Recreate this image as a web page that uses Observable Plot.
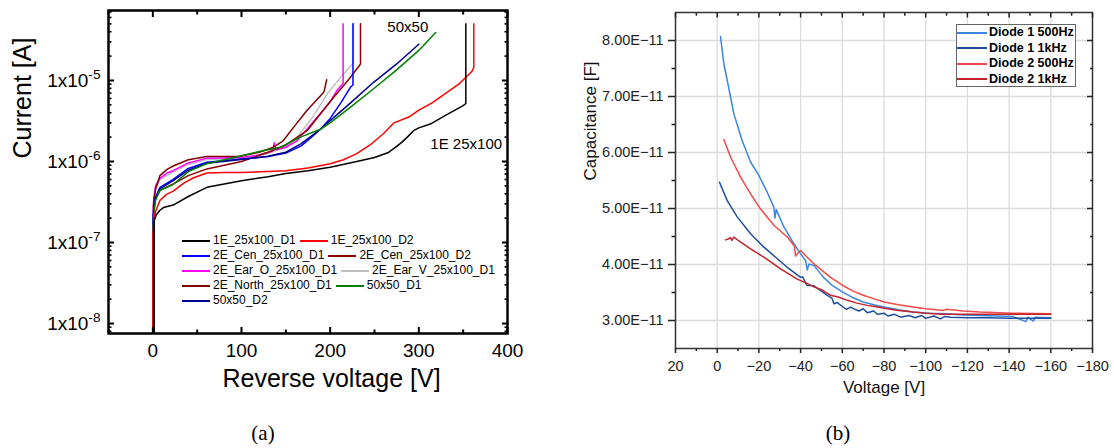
<!DOCTYPE html>
<html><head><meta charset="utf-8">
<script src="https://cdn.jsdelivr.net/npm/d3@7"></script>
<script src="https://cdn.jsdelivr.net/npm/@observablehq/plot@0.6"></script>
<style>
body{margin:0;background:#fff;}
#wrap{position:relative;width:1114px;height:448px;overflow:hidden;background:#fff;font-family:"Liberation Sans",Arial,sans-serif;}
.panel{position:absolute;top:0;}
.cap{position:absolute;font-family:"Liberation Serif","Times New Roman",serif;font-size:21px;transform:translate(-50%,-50%);white-space:nowrap;}
#legA{position:absolute;left:182px;top:233px;font-size:12px;color:#000;}
#legA .row{height:15px;line-height:15px;white-space:nowrap;display:flex;align-items:center;}
#legA .sw{display:inline-block;width:28px;height:0;border-top:2px solid;margin-right:3px;}
#legA .tx{margin-right:4px;}
#legB{position:absolute;left:956px;top:24px;width:120px;height:63px;border:1px solid #666;background:#fff;font-weight:bold;font-size:12.5px;box-sizing:border-box;padding-top:0px;}
#legB .row{height:15.5px;line-height:15.5px;white-space:nowrap;display:flex;align-items:center;}
#legB .sw{display:inline-block;width:30px;height:0;border-top:2px solid;margin-right:2px;}
</style></head>
<body><div id="wrap"></div>
<script>
// ---------------- Panel (a): I-V curves ----------------
const namesA = ["1E_25x100_D1","1E_25x100_D2","2E_Cen_25x100_D1","2E_Cen_25x100_D2","2E_Ear_O_25x100_D1","2E_Ear_V_25x100_D1","2E_North_25x100_D1","50x50_D1","50x50_D2"];
const colorsA = ["#000000","#ff0000","#0000ff","#8b0000","#ff00ff","#c0c0c0","#800000","#008000","#000090"];

const v_1E_D1 = [1.5,1.5,2.5,4,8,12,23,40,61,100,130,150,175,200,230,250,265,272,280,287,294,300,313,330,350,353,353];
const i_1E_D1 = [1e-9,1.85e-7,2.0e-7,2.2e-7,2.5e-7,2.7e-7,2.9e-7,3.7e-7,4.8e-7,5.8e-7,6.5e-7,7.1e-7,7.7e-7,8.5e-7,1.0e-6,1.12e-6,1.28e-6,1.45e-6,1.7e-6,2.0e-6,2.4e-6,2.6e-6,2.9e-6,3.7e-6,4.9e-6,5.2e-6,5e-5];

const v_1E_D2 = [0.2,0.2,1,3,8,15,23,35,46,61,80,100,130,150,175,200,215,230,245,260,272,290,300,315,325,345,360,362,362];
const i_1E_D2 = [1e-9,1.2e-7,1.7e-7,2.4e-7,3.3e-7,3.9e-7,4.3e-7,5.4e-7,6.3e-7,7.2e-7,7.3e-7,7.3e-7,7.5e-7,7.7e-7,8.3e-7,9.4e-7,1.05e-6,1.25e-6,1.6e-6,2.2e-6,3.0e-6,3.6e-6,4.3e-6,5.3e-6,6.3e-6,9e-6,1.3e-5,1.45e-5,5e-5];

const v_Cen_D1 = [0.5,0.5,1,3,8,23,40,61,100,130,150,167,178,189,200,212,223,225.7,225.7];
const i_Cen_D1 = [1e-9,2e-7,2.6e-7,3.6e-7,4.8e-7,6e-7,8.2e-7,9.8e-7,1.07e-6,1.15e-6,1.27e-6,1.55e-6,1.95e-6,2.5e-6,3.4e-6,5.3e-6,8.3e-6,8.8e-6,5e-5];

const v_Cen_D2 = [0.8,0.8,1,3,8,23,40,61,100,130,150,174,190,204,220,233,234.2,234.2];
const i_Cen_D2 = [1e-9,2e-7,2.4e-7,3.5e-7,4.4e-7,5.3e-7,6.7e-7,8.1e-7,1.0e-6,1.3e-6,1.6e-6,2.4e-6,4.0e-6,6.2e-6,1.0e-5,1.53e-5,1.6e-5,5e-5];

const v_EarO = [0.5,0.5,1,3,8,16,23,40,61,100,120,135,137,139,150,162.7,175,189,200,207.5,213.5,214.6,214.6];
const i_EarO = [1e-9,2.6e-7,3.4e-7,5e-7,6.2e-7,7.2e-7,7.7e-7,9.6e-7,1.1e-6,1.12e-6,1.2e-6,1.35e-6,1.7e-6,1.4e-6,1.5e-6,1.8e-6,2.6e-6,3.9e-6,5.5e-6,7.5e-6,8.9e-6,9.2e-6,5e-5];

const v_EarV = [0.3,0.3,1,3,8,23,40,61,100,130,150,162.7,180,197,212,225,226.4,226.4];
const i_EarV = [1e-9,2.3e-7,3.1e-7,4.6e-7,6e-7,7.4e-7,9.2e-7,1.06e-6,1.1e-6,1.25e-6,1.5e-6,2.0e-6,3.5e-6,6.9e-6,1.1e-5,1.6e-5,1.65e-5,5e-5];

const v_North = [0.8,0.8,1,3,8,16,23,40,61,98,120,136,147,160,174,192.5,193.5,196];
const i_North = [1e-9,2.8e-7,3.2e-7,4.5e-7,6.7e-7,8e-7,8.8e-7,1.05e-6,1.15e-6,1.16e-6,1.3e-6,1.5e-6,1.8e-6,2.75e-6,4.3e-6,7.1e-6,7.6e-6,1.02e-5];

const v_5050_D1 = [0.5,0.5,1,3,8,23,40,61,100,120,144,166.5,189,200,223,249,275,300,319];
const i_5050_D1 = [1e-9,1.5e-7,2.2e-7,3.3e-7,4.4e-7,5.2e-7,7.5e-7,9.4e-7,1.18e-6,1.33e-6,1.5e-6,2.0e-6,2.5e-6,3.0e-6,4.7e-6,7.9e-6,1.35e-5,2.35e-5,3.9e-5];

const v_5050_D2 = [0.5,0.5,1,3,8,23,40,61,100,130,150,167,189,200,223,249,275,300];
const i_5050_D2 = [1e-9,1.9e-7,2.5e-7,3.5e-7,4.6e-7,5.8e-7,7.8e-7,9.5e-7,1.06e-6,1.16e-6,1.3e-6,1.65e-6,2.5e-6,3.2e-6,5.3e-6,9.5e-6,1.6e-5,2.8e-5];

const seriesVA = [v_1E_D1,v_1E_D2,v_Cen_D1,v_Cen_D2,v_EarO,v_EarV,v_North,v_5050_D1,v_5050_D2];
const seriesIA = [i_1E_D1,i_1E_D2,i_Cen_D1,i_Cen_D2,i_EarO,i_EarV,i_North,i_5050_D1,i_5050_D2];
// draw order (legend order differs): draw lower ones last where they dominate
const drawOrderA = [5,4,6,3,2,8,7,1,0];

const xTicksA = [0,100,200,300,400];
const xTickLabelsA = ["0","100","200","300","400"];
const xMinorA = [-50,50,150,250,350];
const yTicksA = [1e-8,1e-7,1e-6,1e-5];
const yTickLabelsA = ["1x10^-8","1x10^-7","1x10^-6","1x10^-5"];
const annotLabelsA = ["50x50","1E 25x100"];
const annotVA = [264.5,313];
const annotIA = [4.5e-5,1.62e-6];

// ---------------- Panel (b): C-V curves ----------------
const namesB = ["Diode 1 500Hz","Diode 1 1kHz","Diode 2 500Hz","Diode 2 1kHz"];
const colorsB = ["#3a86e0","#1f4f9c","#f04a4a","#c3232a"];
// capacitance in units of 1e-11 F
const v_d1_500 = [-1.6,-3.2,-4.8,-8,-12,-16,-20,-24,-27.2,-27.7,-28.3,-32,-36.8,-40,-42.4,-43.2,-44,-46.4,-51,-55,-60,-65,-70,-75,-80,-87,-94,-102,-110,-118,-126,-134,-142,-148,-149,-151.6,-152.5,-160];
const c_d1_500 = [8.07,7.58,7.29,6.69,6.21,5.83,5.59,5.29,5.02,4.83,4.98,4.67,4.37,4.19,4.07,3.90,4.01,3.98,3.77,3.63,3.51,3.41,3.33,3.28,3.24,3.19,3.15,3.13,3.12,3.10,3.09,3.08,3.07,2.98,3.06,2.99,3.06,3.05];

const v_d1_1k = [-1.1,-4.8,-9.6,-16,-22.4,-28,-33.6,-40,-41,-43,-46.4,-49,-52.8,-55,-56,-57.6,-60,-62,-64,-66,-68,-70,-72,-75,-77,-80,-82,-85,-88,-92,-95,-98,-100,-104,-107,-109,-112,-120,-130,-140,-150,-160];
const c_d1_1k = [5.47,5.14,4.85,4.55,4.31,4.13,3.95,3.77,3.78,3.63,3.62,3.55,3.45,3.40,3.30,3.32,3.25,3.20,3.24,3.20,3.17,3.21,3.14,3.17,3.11,3.13,3.08,3.11,3.06,3.09,3.05,3.09,3.04,3.08,3.03,3.07,3.06,3.05,3.05,3.04,3.04,3.04];

const v_d2_500 = [-3.2,-6.4,-11.2,-16,-20.8,-27.2,-33.6,-37,-37.6,-38.6,-40,-46.4,-54.4,-60,-65,-70,-75,-80,-87,-94,-100,-108.7,-110,-118,-126,-142,-160];
const c_d2_500 = [6.23,5.92,5.56,5.26,4.99,4.70,4.49,4.33,4.15,4.20,4.25,4.01,3.77,3.63,3.53,3.45,3.39,3.33,3.28,3.24,3.21,3.18,3.20,3.17,3.15,3.13,3.12];

const v_d2_1k = [-4,-5,-6.4,-7,-8,-10.4,-16,-22.4,-30.4,-38.4,-42,-46.4,-50,-54.4,-58,-62.4,-67,-72,-77,-81.5,-87,-94,-100,-108,-112,-130,-160];
const c_d2_1k = [4.44,4.45,4.48,4.43,4.49,4.42,4.28,4.13,3.92,3.74,3.68,3.60,3.55,3.45,3.42,3.36,3.31,3.27,3.24,3.21,3.18,3.15,3.13,3.11,3.11,3.11,3.11];

const seriesVB = [v_d1_500,v_d1_1k,v_d2_500,v_d2_1k];
const seriesCB = [c_d1_500,c_d1_1k,c_d2_500,c_d2_1k];

const xTicksB = [20,0,-20,-40,-60,-80,-100,-120,-140,-160,-180];
const xTickLabelsB = ["20","0","\u221220","\u221240","\u221260","\u221280","\u2212100","\u2212120","\u2212140","\u2212160","\u2212180"];
const xMinorB = [10,-10,-30,-50,-70,-90,-110,-130,-150,-170];
const yTicksB = [3,4,5,6,7,8];
const yTickLabelsB = ["3.00E\u221211","4.00E\u221211","5.00E\u221211","6.00E\u221211","7.00E\u221211","8.00E\u221211"];
const yMinorB = [3.5,4.5,5.5,6.5,7.5];

// ---------------- build ----------------
const FONT = "'Liberation Sans', Arial, Helvetica, sans-serif";
const wrap = document.getElementById("wrap");

const rowsA = drawOrderA.flatMap(s => seriesVA[s].map((v,k) => ({name: namesA[s], v, i: seriesIA[s][k]})));
const annotA = annotLabelsA.map((t,k) => ({t, v: annotVA[k], i: annotIA[k]}));
const yMinorA = [1e-9,1e-8,1e-7,1e-6,1e-5].flatMap(d => [2,3,4,5,6,7,8,9].map(m => m*d)).filter(d => d > 7.53e-9 && d < 7.31e-5);

const plotA = Plot.plot({
  width: 540, height: 410,
  marginLeft: 108, marginRight: 33, marginTop: 10, marginBottom: 77,
  x: {domain: [-50, 400]},
  y: {type: "log", domain: [7.53e-9, 7.31e-5]},
  color: {domain: namesA, range: colorsA},
  style: {fontFamily: FONT, background: "white", color: "black"},
  marks: [
    Plot.line(rowsA, {x: "v", y: "i", z: "name", stroke: "name", strokeWidth: 1.5, clip: true}),
    Plot.text(annotA, {x: "v", y: "i", text: "t", textAnchor: "start", fontSize: 15, fill: "black"}),
    Plot.frame({stroke: "black", strokeWidth: 2.5}),
    // bottom axis labels
    Plot.axisX({anchor: "bottom", ticks: xTicksA, tickSize: 0, tickPadding: 10, fontSize: 19, label: null,
      tickFormat: d => xTickLabelsA[xTicksA.indexOf(d)]}),
    // inward ticks bottom/top
    Plot.axisX({anchor: "bottom", ticks: xTicksA, tickSize: 6, dy: -6, fill: "none", strokeWidth: 2, label: null}),
    Plot.axisX({anchor: "bottom", ticks: xMinorA, tickSize: 3.5, dy: -3.5, fill: "none", strokeWidth: 2, label: null}),
    Plot.axisX({anchor: "top", ticks: xTicksA, tickSize: 6, dy: 6, fill: "none", strokeWidth: 2, label: null}),
    Plot.axisX({anchor: "top", ticks: xMinorA, tickSize: 3.5, dy: 3.5, fill: "none", strokeWidth: 2, label: null}),
    // y labels
    Plot.axisY({anchor: "left", ticks: yTicksA, tickSize: 0, tickPadding: 8, fontSize: 19, label: null,
      tickFormat: d => yTickLabelsA[yTicksA.findIndex(t => Math.abs(Math.log10(t) - Math.log10(d)) < 1e-6)]}),
    Plot.axisY({anchor: "left", ticks: yTicksA, tickSize: 6, dx: 6, fill: "none", strokeWidth: 2, label: null}),
    Plot.axisY({anchor: "left", ticks: yMinorA, tickSize: 3.5, dx: 3.5, fill: "none", strokeWidth: 1.6, label: null}),
    Plot.axisY({anchor: "right", ticks: yTicksA, tickSize: 6, dx: -6, fill: "none", strokeWidth: 2, label: null}),
    Plot.axisY({anchor: "right", ticks: yMinorA, tickSize: 3.5, dx: -3.5, fill: "none", strokeWidth: 1.6, label: null}),
    Plot.text(["Reverse voltage [V]"], {frameAnchor: "bottom", text: d => d, dy: 53, dx: 23.5, fontSize: 25, fill: "black"}),
    Plot.text(["Current [A]"], {frameAnchor: "left", text: d => d, dx: -85.5, dy: -13.5, rotate: -90, fontSize: 25, fill: "black"})
  ]
});
plotA.classList.add("panel");
plotA.style.left = "0px";
wrap.appendChild(plotA);

// superscripts on log tick labels
const NS = "http://www.w3.org/2000/svg";
plotA.querySelectorAll('g[aria-label="y-axis tick label"] text').forEach(t => {
  const s = t.textContent;
  const parts = s.split("^");
  if (parts.length === 2) {
    t.textContent = parts[0];
    const ts = document.createElementNS(NS, "tspan");
    ts.setAttribute("dy", "-0.55em");
    ts.setAttribute("font-size", "0.72em");
    ts.textContent = parts[1];
    t.appendChild(ts);
  }
});

// legend (a)
const legA = document.createElement("div");
legA.id = "legA";
for (let r = 0; r < namesA.length; r += 2) {
  const row = document.createElement("div");
  row.className = "row";
  for (let k = r; k < Math.min(r + 2, namesA.length); k++) {
    const sw = document.createElement("span"); sw.className = "sw"; sw.style.borderTopColor = colorsA[k];
    const tx = document.createElement("span"); tx.className = "tx"; tx.textContent = namesA[k];
    row.appendChild(sw); row.appendChild(tx);
  }
  legA.appendChild(row);
}
wrap.appendChild(legA);

// panel (b)
const rowsB = seriesVB.flatMap((vs, s) => vs.map((v,k) => ({name: namesB[s], v, c: seriesCB[s][k]})));

const plotB = Plot.plot({
  width: 554, height: 410,
  marginLeft: 115, marginRight: 22, marginTop: 12, marginBottom: 62,
  x: {domain: [20, -180]},
  y: {domain: [2.5, 8.5]},
  color: {domain: namesB, range: colorsB},
  style: {fontFamily: FONT, background: "white", color: "#222"},
  marks: [
    Plot.gridX(xTicksB.slice(1, -1), {stroke: "#dcdcdc", strokeOpacity: 1, strokeWidth: 1.3}),
    Plot.gridY(yTicksB, {stroke: "#dcdcdc", strokeOpacity: 1, strokeWidth: 1.3}),
    Plot.line(rowsB, {x: "v", y: "c", z: "name", stroke: "name", strokeWidth: 1.5}),
    Plot.frame({stroke: "#333", strokeWidth: 1.5}),
    Plot.axisX({anchor: "bottom", ticks: xTicksB, tickSize: 5, tickPadding: 7, fontSize: 14.5, strokeWidth: 1.5, label: null,
      tickFormat: d => xTickLabelsB[xTicksB.indexOf(d)]}),
    Plot.axisX({anchor: "bottom", ticks: xMinorB, tickSize: 3, fill: "none", strokeWidth: 1.5, label: null}),
    Plot.axisX({anchor: "top", ticks: xTicksB, tickSize: 4.5, dy: 4.5, fill: "none", strokeWidth: 1.5, label: null}),
    Plot.axisX({anchor: "top", ticks: xMinorB, tickSize: 2.7, dy: 2.7, fill: "none", strokeWidth: 1.5, label: null}),
    Plot.axisY({anchor: "left", ticks: yTicksB, tickSize: 7, tickPadding: 5, fontSize: 14.5, strokeWidth: 1.5, label: null,
      tickFormat: d => yTickLabelsB[yTicksB.indexOf(d)]}),
    Plot.axisY({anchor: "left", ticks: yMinorB, tickSize: 3.5, fill: "none", strokeWidth: 1.5, label: null}),
    Plot.axisY({anchor: "right", ticks: yTicksB, tickSize: 6, dx: -6, fill: "none", strokeWidth: 1.5, label: null}),
    Plot.axisY({anchor: "right", ticks: yMinorB, tickSize: 3, dx: -3, fill: "none", strokeWidth: 1.5, label: null}),
    Plot.text(["Voltage [V]"], {frameAnchor: "bottom", text: d => d, dy: 44, fontSize: 17, fill: "#111"}),
    Plot.text(["Capacitance [F]"], {frameAnchor: "left", text: d => d, dx: -85, rotate: -90, fontSize: 17, fill: "#111"})
  ]
});
plotB.classList.add("panel");
plotB.style.left = "560px";
wrap.appendChild(plotB);

// legend (b)
const legB = document.createElement("div");
legB.id = "legB";
namesB.forEach((n, k) => {
  const row = document.createElement("div"); row.className = "row";
  const sw = document.createElement("span"); sw.className = "sw"; sw.style.borderTopColor = colorsB[k];
  const tx = document.createElement("span"); tx.textContent = n;
  row.appendChild(sw); row.appendChild(tx);
  legB.appendChild(row);
});
wrap.appendChild(legB);

// captions
[["(a)", 263], ["(b)", 838]].forEach(([t, x]) => {
  const c = document.createElement("div");
  c.className = "cap"; c.textContent = t;
  c.style.left = x + "px"; c.style.top = "433px";
  wrap.appendChild(c);
});
</script>
</body></html>
